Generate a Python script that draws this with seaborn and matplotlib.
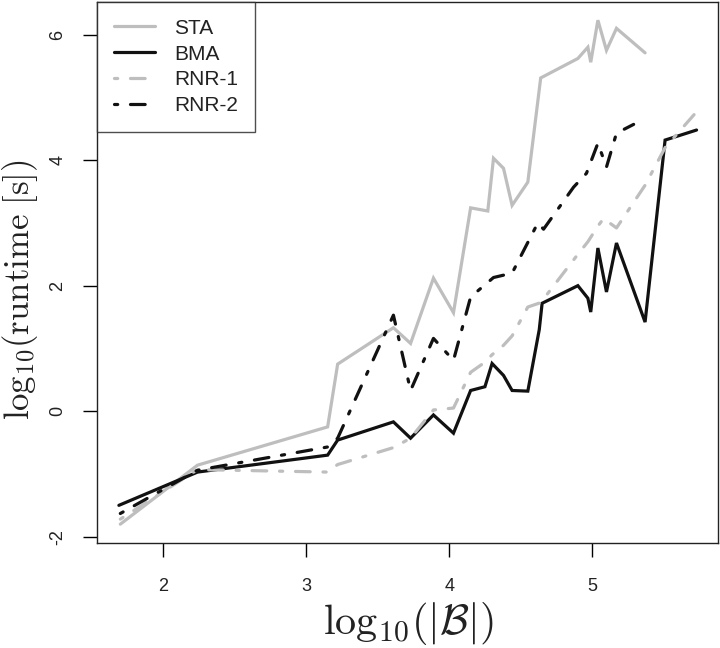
import numpy as np
import pandas as pd
import matplotlib
matplotlib.use("Agg")
import matplotlib.pyplot as plt
import seaborn as sns

# ---- data ----
sta_x = [1.70, 2.24, 3.15, 3.22, 3.61, 3.73, 3.89, 4.03, 4.15, 4.27, 4.31, 4.38, 4.44, 4.55, 4.64, 4.90, 4.97, 4.99, 5.04, 5.10, 5.17, 5.37]
sta_y = [-1.80, -0.86, -0.25, 0.75, 1.33, 1.08, 2.12, 1.57, 3.24, 3.19, 4.03, 3.87, 3.28, 3.65, 5.31, 5.62, 5.80, 5.56, 6.23, 5.75, 6.10, 5.71]

bma_x = [1.69, 2.24, 3.15, 3.22, 3.61, 3.73, 3.89, 4.03, 4.15, 4.25, 4.30, 4.38, 4.44, 4.55, 4.63, 4.65, 4.90, 4.97, 4.99, 5.04, 5.10, 5.17, 5.37, 5.51, 5.73]
bma_y = [-1.50, -0.97, -0.70, -0.46, -0.17, -0.43, -0.06, -0.35, 0.33, 0.39, 0.76, 0.57, 0.33, 0.32, 1.30, 1.72, 2.00, 1.80, 1.58, 2.60, 1.90, 2.68, 1.42, 4.32, 4.48]

rnr1_x = [1.70, 2.24, 3.15, 3.22, 3.61, 3.73, 3.89, 4.03, 4.15, 4.25, 4.30, 4.38, 4.44, 4.55, 4.64, 4.90, 4.97, 5.04, 5.08, 5.17, 5.37, 5.51, 5.73]
rnr1_y = [-1.72, -0.93, -0.97, -0.85, -0.58, -0.43, 0.02, 0.05, 0.62, 0.78, 0.90, 1.05, 1.20, 1.66, 1.73, 2.50, 2.70, 2.95, 3.07, 2.92, 3.60, 4.20, 4.77]

rnr2_x = [1.70, 2.24, 3.15, 3.22, 3.61, 3.73, 3.89, 4.03, 4.15, 4.31, 4.44, 4.62, 4.66, 4.87, 4.96, 5.04, 5.10, 5.17, 5.29]
rnr2_y = [-1.63, -0.94, -0.57, -0.43, 1.53, 0.33, 1.16, 0.81, 1.82, 2.13, 2.20, 3.00, 2.90, 3.57, 3.79, 4.27, 3.89, 4.43, 4.57]

series_names = ["STA", "BMA", "RNR-1", "RNR-2"]
x_ticks = [2, 3, 4, 5]
y_ticks = [-2, 0, 2, 4, 6]

sns.set_theme(style="white")
plt.rcParams["font.family"] = ["Liberation Sans", "DejaVu Sans"]
plt.rcParams["mathtext.fontset"] = "cm"

fig = plt.figure(figsize=(7.2, 6.48), dpi=100)
ax = fig.add_axes([97 / 720, 1 - 543 / 648, (718 - 97) / 720, (543 - 2) / 648])

GRAY = "#BEBEBE"
BLACK = "#111111"
LW = 2.3
dd = (0, (1.0, 4.0, 4.6, 4.0))

styles = {
    "STA": dict(color=GRAY, linestyle="-"),
    "BMA": dict(color=BLACK, linestyle="-"),
    "RNR-1": dict(color=GRAY, linestyle=dd),
    "RNR-2": dict(color=BLACK, linestyle=dd),
}
data = {
    "STA": (sta_x, sta_y),
    "BMA": (bma_x, bma_y),
    "RNR-1": (rnr1_x, rnr1_y),
    "RNR-2": (rnr2_x, rnr2_y),
}

for name in series_names:
    xs, ys = data[name]
    df = pd.DataFrame({"x": xs, "y": ys})
    sns.lineplot(data=df, x="x", y="y", ax=ax, estimator=None, sort=False,
                 linewidth=LW, label=name, **styles[name])

for ln in ax.get_lines():
    ln.set_dash_capstyle("round")
    ln.set_solid_capstyle("round")
    ln.set_solid_joinstyle("miter")

ax.set_xlim(1.537, 5.88)
ax.set_ylim(-2.1, 6.52)
ax.set_xticks(x_ticks)
ax.set_yticks(y_ticks)
ax.set_xticklabels([str(v) for v in x_ticks])
ax.set_yticklabels([str(v) for v in y_ticks], rotation=90, va="center")
ax.tick_params(axis="both", direction="out", length=10, width=1.0, color="black",
               labelsize=13, labelcolor="#222222", bottom=True, left=True)
ax.tick_params(axis="x", pad=15)
ax.tick_params(axis="y", pad=12)
for s in ax.spines.values():
    s.set_visible(True)
    s.set_color("#222222")
    s.set_linewidth(1.0)

ax.set_xlabel(r"$\mathrm{log}_{10}(|\mathcal{B}|)$", fontsize=30.5, color="#222222")
ax.set_ylabel(r"$\mathrm{log}_{10}(\mathrm{runtime\ [s]})$", fontsize=25, color="#222222")
ax.xaxis.set_label_coords(0.501, -0.106)
ax.yaxis.set_label_coords(-0.092, 0.468)

leg = ax.legend(loc="upper left", bbox_to_anchor=(0, 1), borderaxespad=0,
                frameon=True, fancybox=False, fontsize=15, handlelength=2.0,
                handletextpad=0.9, labelspacing=0.33, borderpad=0.8)
leg.get_frame().set_edgecolor("#222222")
leg.get_frame().set_linewidth(1.0)
for t in leg.get_texts():
    t.set_color("#222222")
for h in leg.get_lines():
    h.set_linewidth(LW)
    h.set_dash_capstyle("round")

fig.savefig("out.png", dpi=100)
